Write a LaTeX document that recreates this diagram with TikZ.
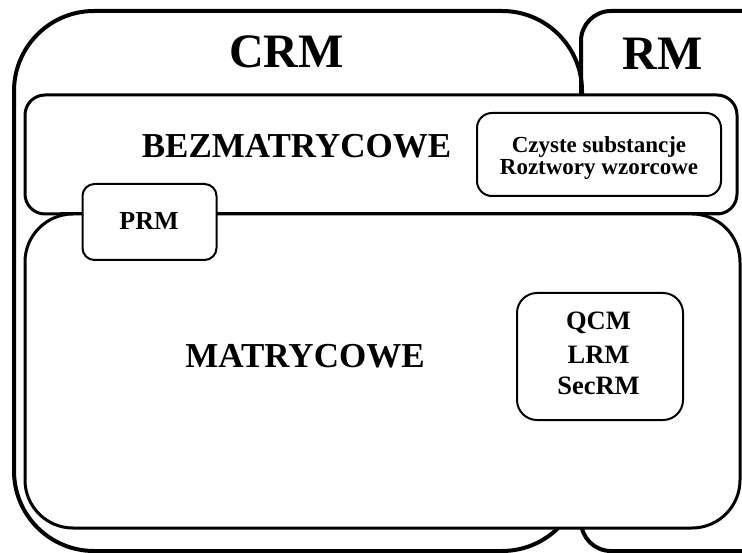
\documentclass[tikz,border=0pt]{standalone}
\usepackage{fontspec}
\setmainfont{Liberation Serif}
\begin{document}
\begin{tikzpicture}[x=1pt,y=-1pt,
  outerset/.style={draw=black,line width=4pt},
  groupbox/.style={draw=black,fill=white,line width=3pt},
  smallbox/.style={draw=black,fill=white,line width=2pt,rectangle,inner sep=0pt},
  lbl/.style={anchor=base,inner sep=0pt,font=\bfseries\fontsize{#1}{#1}\selectfont},
]
\useasboundingbox (0,0) rectangle (742,553);
\clip (0,0) rectangle (742,553);

% the two outer sets
\draw[outerset,rounded corners=80pt] (14,11) rectangle (582,551);
\draw[outerset,rounded corners=30pt] (581,11) rectangle (790,551);

% the two bands across both sets
\draw[groupbox,rounded corners=20pt] (25,95) rectangle (737,214);
\draw[groupbox,rounded corners=48pt] (25,214) rectangle (740,528);
\draw[line width=3pt] (60,214) -- (720,214);

% inner boxes
\node[smallbox,rounded corners=12pt,minimum width=134pt,minimum height=76pt] (prmbox) at (149.5,222) {};
\node[smallbox,rounded corners=15pt,minimum width=244pt,minimum height=83pt] (purebox) at (599,154.5) {};
\node[smallbox,rounded corners=20pt,minimum width=166pt,minimum height=127pt] (matrixbox) at (600,356.5) {};

% labels
\node[lbl=48] (crm) at (286.5,68) {CRM};
\node[lbl=48] (rm) at (662.5,70) {RM};
\node[lbl=35] (bez) at (296.5,158) {BEZMATRYCOWE};
\node[lbl=35] (mat) at (305,367) {MATRYCOWE};
\node[lbl=26] (prm) at (149,230) {PRM};
\node[lbl=23] (pure) at (599,153) {Czyste substancje};
\node[lbl=23] (std) at (599,175) {Roztwory wzorcowe};
\node[lbl=26.5] (qcm) at (598.5,330) {QCM};
\node[lbl=26.5] (lrm) at (598.5,363) {LRM};
\node[lbl=26.5] (secrm) at (598.5,395) {SecRM};
\end{tikzpicture}
\end{document}
